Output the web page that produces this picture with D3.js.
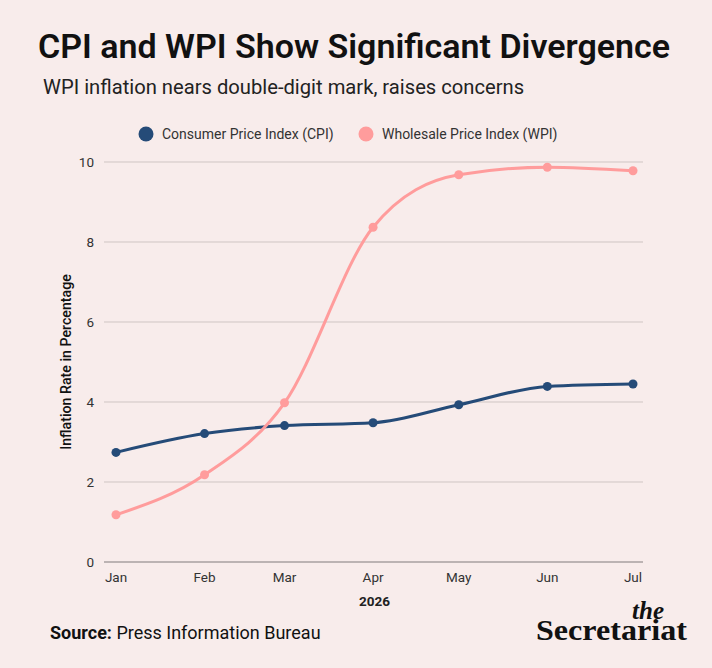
<!DOCTYPE html>
<html>
<head>
<meta charset="utf-8">
<script src="https://cdn.jsdelivr.net/npm/d3@7"></script>
<style>
  body { margin: 0; background: #f8eceb; }
  svg { display: block; font-family: Roboto, "Noto Sans", sans-serif; }
</style>
</head>
<body>
<div id="chart"></div>
<script>
'use strict'
// data
const months = ['2026-01-01', '2026-02-01', '2026-03-01', '2026-04-01', '2026-05-01', '2026-06-01', '2026-07-01'];
const cpiValues = [2.74, 3.21, 3.41, 3.48, 3.93, 4.39, 4.45];
const wpiValues = [1.18, 2.18, 3.98, 8.37, 9.68, 9.87, 9.78];
const yTicks = [0, 2, 4, 6, 8, 10];
const seriesNames = ['Consumer Price Index (CPI)', 'Wholesale Price Index (WPI)'];
const seriesColors = ['#254b78', '#ff9c9c'];

const width = 712, height = 668;
const parse = d3.timeParse('%Y-%m-%d');
const dates = months.map(parse);

const svg = d3.select('#chart').append('svg')
  .attr('width', width)
  .attr('height', height);

svg.append('rect').attr('width', width).attr('height', height).attr('fill', '#f8eceb');

// titles
svg.append('text')
  .attr('x', 38).attr('y', 58)
  .attr('font-size', 34).attr('font-weight', 600)
  .attr('fill', '#111')
  .text('CPI and WPI Show Significant Divergence');

svg.append('text')
  .attr('x', 43).attr('y', 94)
  .attr('font-size', 20.2)
  .attr('fill', '#222')
  .text('WPI inflation nears double-digit mark, raises concerns');

const x = d3.scaleTime()
  .domain([dates[0], dates[dates.length - 1]])
  .range([116, 633]);

const y = d3.scaleLinear()
  .domain([0, 10])
  .range([562, 162]);

// grid
svg.append('g')
  .selectAll('line').data(yTicks).enter()
  .append('line')
    .attr('x1', 104).attr('x2', 643)
    .attr('y1', d => y(d)).attr('y2', d => y(d))
    .attr('stroke', d => d === 0 ? '#a9a1a0' : '#cfc5c3')
    .attr('stroke-width', d => d === 0 ? 1.5 : 1);

// y axis labels
svg.append('g')
  .selectAll('text').data(yTicks).enter()
  .append('text')
    .attr('x', 94).attr('y', d => y(d) + 5)
    .attr('text-anchor', 'end')
    .attr('font-size', 13.5)
    .attr('fill', '#333')
    .text(d => d);

// x axis labels
svg.append('g')
  .selectAll('text').data(dates).enter()
  .append('text')
    .attr('x', d => x(d)).attr('y', 582)
    .attr('text-anchor', 'middle')
    .attr('font-size', 13.5)
    .attr('fill', '#333')
    .text(d3.timeFormat('%b'));

svg.append('text')
  .attr('x', (x.range()[0] + x.range()[1]) / 2).attr('y', 606)
  .attr('text-anchor', 'middle')
  .attr('font-size', 13.5).attr('font-weight', 700)
  .attr('fill', '#222')
  .text('2026');

svg.append('text')
  .attr('transform', 'translate(71,' + (y(5)) + ') rotate(-90)')
  .attr('text-anchor', 'middle')
  .attr('font-size', 14.2).attr('font-weight', 500)
  .attr('fill', '#111')
  .text('Inflation Rate in Percentage');

// lines
const line = d3.line()
  .x((d, i) => x(dates[i]))
  .y(d => y(d))
  .curve(d3.curveMonotoneX);

[cpiValues, wpiValues].forEach((vals, s) => {
  const g = svg.append('g');
  g.append('path')
    .attr('d', line(vals))
    .attr('fill', 'none')
    .attr('stroke', seriesColors[s])
    .attr('stroke-width', 3);
  g.selectAll('circle').data(vals).enter()
    .append('circle')
      .attr('cx', (d, i) => x(dates[i]))
      .attr('cy', d => y(d))
      .attr('r', 4.5)
      .attr('fill', seriesColors[s]);
});

// legend
const legendX = [146, 366];
seriesNames.forEach((name, i) => {
  svg.append('circle')
    .attr('cx', legendX[i]).attr('cy', 134)
    .attr('r', 7.5)
    .attr('fill', seriesColors[i]);
  svg.append('text')
    .attr('x', legendX[i] + 16).attr('y', 139)
    .attr('font-size', 14)
    .attr('fill', '#333')
    .text(name);
});

// source
const src = svg.append('text')
  .attr('x', 50).attr('y', 639)
  .attr('font-size', 18)
  .attr('fill', '#111');
src.append('tspan').attr('font-weight', 700).text('Source:');
src.append('tspan').text(' Press Information Bureau');

// logo
svg.append('text')
  .attr('x', 664).attr('y', 619)
  .attr('text-anchor', 'end')
  .attr('font-family', '"Liberation Serif", "DejaVu Serif", serif')
  .attr('font-size', 25).attr('font-style', 'italic').attr('font-weight', 700)
  .attr('fill', '#111')
  .text('the');
svg.append('text')
  .attr('x', 536).attr('y', 640)
  .attr('font-family', '"Liberation Serif", "DejaVu Serif", serif')
  .attr('font-size', 29).attr('font-weight', 700)
  .attr('textLength', 151).attr('lengthAdjust', 'spacingAndGlyphs')
  .attr('fill', '#111')
  .text('Secretariat');
</script>
</body>
</html>
